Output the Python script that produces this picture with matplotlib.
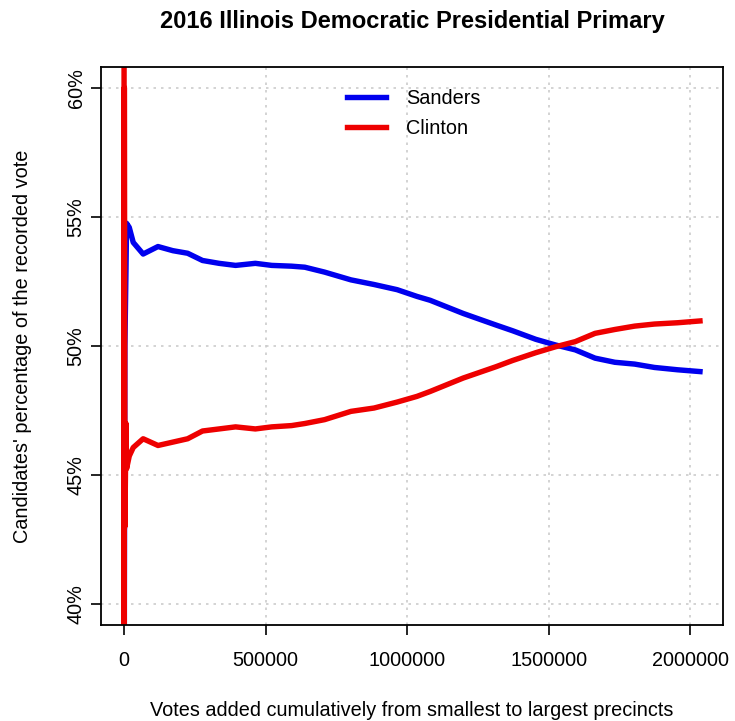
import matplotlib
matplotlib.use('Agg')
import matplotlib.pyplot as plt
from matplotlib.ticker import FuncFormatter

# cumulative votes (smallest precincts first) and candidate shares
votes = [0, 300, 1200, 3000, 7000, 9000,
         18500, 32500, 67500, 120000, 172400, 224800, 277300, 335700, 394100, 464000,
         522000, 592000, 638800, 708700, 801700, 883600, 965000, 1035000, 1081500, 1198300,
         1314700, 1373100, 1454600, 1524500, 1594400, 1664300, 1734300, 1804200, 1874100, 1955600,
         2035000]
sanders = [0, 20, 40, 50, 53.0, 54.75,
           54.59, 54.01, 53.56, 53.85, 53.69, 53.59, 53.31, 53.2, 53.12, 53.2,
           53.12, 53.09, 53.05, 52.86, 52.56, 52.38, 52.18, 51.92, 51.77, 51.26,
           50.81, 50.59, 50.26, 50.04, 49.85, 49.53, 49.37, 49.3, 49.17, 49.08,
           49.01]
clinton = [100, 0, 60, 43, 47.0, 45.25,
           45.74, 46.07, 46.41, 46.15, 46.28, 46.41, 46.71, 46.79, 46.87, 46.79,
           46.87, 46.92, 47.0, 47.15, 47.47, 47.6, 47.83, 48.05, 48.24, 48.76,
           49.2, 49.44, 49.74, 49.97, 50.17, 50.49, 50.64, 50.77, 50.85, 50.9,
           50.97]

x_ticks = [0, 500000, 1000000, 1500000, 2000000]
y_ticks = [40, 45, 50, 55, 60]

plt.rcParams['font.family'] = ['Liberation Sans', 'DejaVu Sans']
fs = 14.3

fig = plt.figure(figsize=(7.35, 7.21), dpi=100)
ax = fig.add_axes([0.1374, 0.1331, 0.8463, 0.774])

ax.plot(votes, sanders, color='#0000ee', lw=3.9, label='Sanders', zorder=2)
ax.plot(votes, clinton, color='#ee0000', lw=3.9, label='Clinton', zorder=2)

# R-style 4% padding around the data range
xr = max(votes) - min(votes)
ax.set_xlim(min(votes) - 0.04 * xr, max(votes) + 0.04 * xr)
ax.set_ylim(40 - 0.8, 60 + 0.8)

ax.set_xticks(x_ticks)
ax.set_yticks(y_ticks)
ax.xaxis.set_major_formatter(FuncFormatter(lambda v, p: f'{int(v)}'))
ax.yaxis.set_major_formatter(FuncFormatter(lambda v, p: f'{int(v)}%'))
ax.tick_params(axis='both', direction='out', length=7, width=1.2, labelsize=fs,
               colors='black')
ax.tick_params(axis='x', pad=12)
ax.tick_params(axis='y', pad=4)
for lbl in ax.get_yticklabels():
    lbl.set_rotation(90)
    lbl.set_va('center')

ax.grid(True, color='#cccccc', linestyle=(0, (1.5, 3)), lw=1.2, zorder=3)
for s in ax.spines.values():
    s.set_linewidth(1.3)
    s.set_color('black')

ax.set_title('2016 Illinois Democratic Presidential Primary', fontsize=17,
             fontweight='bold', pad=28)
ax.set_xlabel('Votes added cumulatively from smallest to largest precincts', fontsize=fs)
ax.set_ylabel("Candidates' percentage of the recorded vote", fontsize=fs)
ax.xaxis.set_label_coords(0.5, -0.136)
ax.yaxis.set_label_coords(-0.111, 0.5)

ax.legend(loc='upper left', bbox_to_anchor=(0.395, 0.960), frameon=False,
          fontsize=fs, handlelength=2.0, handletextpad=1.0, labelspacing=0.52,
          borderpad=0, borderaxespad=0)

fig.savefig('out.png', dpi=100, facecolor='white')
